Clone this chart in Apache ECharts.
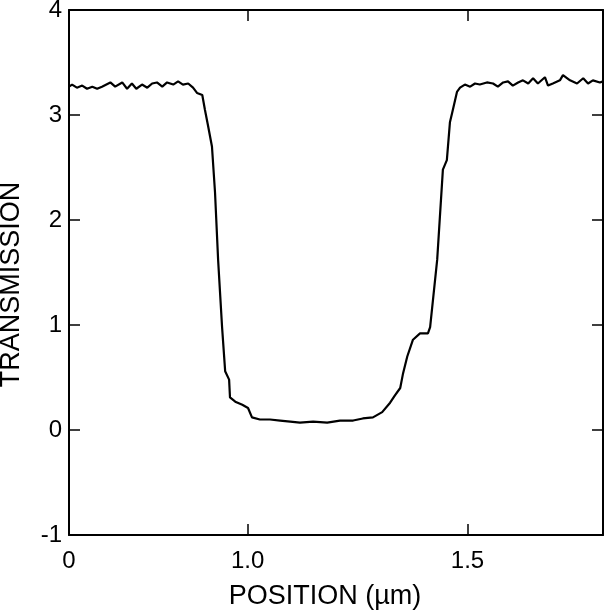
<!DOCTYPE html>
<html>
<head>
<meta charset="utf-8">
<script src="https://cdn.jsdelivr.net/npm/echarts@6/dist/echarts.min.js"></script>
<style>
  html, body { margin: 0; padding: 0; background: #fff; }
  #main { width: 606px; height: 610px; }
</style>
</head>
<body>
<div id="main"></div>
<script>
// position along the scan (um) and measured transmission
var position = [
  0.594, 0.601, 0.612, 0.624, 0.635, 0.647, 0.658, 0.669, 0.688, 0.699,
  0.715, 0.726, 0.737, 0.747, 0.760, 0.772, 0.783, 0.794, 0.806, 0.817,
  0.831, 0.842, 0.853, 0.865, 0.876, 0.885, 0.897, 0.903, 0.910, 0.919,
  0.926, 0.933, 0.942, 0.949, 0.958, 0.960, 0.972, 0.988, 1.001, 1.010,
  1.028, 1.051, 1.074, 1.097, 1.119, 1.149, 1.181, 1.210, 1.240, 1.262,
  1.285, 1.306, 1.324, 1.335, 1.347, 1.353, 1.363, 1.376, 1.392, 1.410,
  1.415, 1.431, 1.444, 1.453, 1.460, 1.465, 1.476, 1.483, 1.494, 1.506,
  1.517, 1.528, 1.544, 1.558, 1.569, 1.581, 1.592, 1.603, 1.615, 1.626,
  1.638, 1.649, 1.660, 1.676, 1.683, 1.694, 1.710, 1.717, 1.733, 1.749,
  1.763, 1.774, 1.785, 1.801, 1.808
];
var transmission = [
  3.27, 3.29, 3.26, 3.28, 3.25, 3.27, 3.25, 3.27, 3.31, 3.27,
  3.31, 3.25, 3.30, 3.25, 3.29, 3.26, 3.30, 3.31, 3.27, 3.31,
  3.29, 3.32, 3.29, 3.30, 3.26, 3.21, 3.19, 3.05, 2.90, 2.70,
  2.26, 1.62, 0.98, 0.56, 0.48, 0.31, 0.27, 0.24, 0.21, 0.12,
  0.10, 0.10, 0.09, 0.08, 0.07, 0.08, 0.07, 0.09, 0.09, 0.11,
  0.12, 0.17, 0.26, 0.33, 0.40, 0.53, 0.70, 0.86, 0.92, 0.92,
  0.98, 1.62, 2.48, 2.57, 2.93, 3.02, 3.22, 3.26, 3.29, 3.27,
  3.30, 3.29, 3.31, 3.30, 3.27, 3.31, 3.32, 3.28, 3.31, 3.33,
  3.30, 3.35, 3.30, 3.36, 3.28, 3.30, 3.33, 3.38, 3.33, 3.30,
  3.35, 3.30, 3.33, 3.31, 3.32
];
var xTicks = [1.0, 1.5];
var xLabelValues = [0.594, 1.0, 1.5];
var xLabelText = ['0', '1.0', '1.5'];

var points = position.map(function (p, i) { return [p, transmission[i]]; });

var myChart = echarts.init(document.getElementById('main'));
var font = 'Liberation Sans, Arial, Helvetica, sans-serif';
var axisLine = { show: true, onZero: false, lineStyle: { color: '#000', width: 2 } };
var tick = { inside: true, length: 11, lineStyle: { color: '#000', width: 1.5 } };

var option = {
  animation: false,
  backgroundColor: '#fff',
  grid: { left: 69, right: 3, top: 10, bottom: 75, containLabel: false, outerBoundsMode: 'none' },
  xAxis: [
    {
      type: 'value', min: 0.594, max: 1.808, position: 'bottom',
      axisLine: axisLine,
      axisTick: Object.assign({ customValues: xTicks }, tick),
      splitLine: { show: false },
      axisLabel: {
        customValues: xLabelValues,
        margin: 14, color: '#000', fontSize: 24, fontFamily: font,
        formatter: function (v) {
          var k = xLabelValues.indexOf(v);
          return k >= 0 ? xLabelText[k] : '';
        }
      },
      name: 'POSITION (µm)', nameLocation: 'middle', nameGap: 48,
      nameTextStyle: { color: '#000', fontSize: 27, fontFamily: font, padding: [0, 22, 0, 0] }
    },
    {
      type: 'value', min: 0.594, max: 1.808, position: 'top',
      axisLine: axisLine,
      axisTick: Object.assign({ customValues: xTicks }, tick),
      axisLabel: { show: false },
      splitLine: { show: false }
    }
  ],
  yAxis: [
    {
      type: 'value', min: -1, max: 4, interval: 1, position: 'left',
      axisLine: axisLine, axisTick: tick,
      splitLine: { show: false },
      axisLabel: { margin: 7, color: '#000', fontSize: 24, fontFamily: font },
      name: 'TRANSMISSION', nameLocation: 'middle', nameGap: 44,
      nameTextStyle: { color: '#000', fontSize: 27, fontFamily: font, padding: [0, 24, 0, 0] }
    },
    {
      type: 'value', min: -1, max: 4, interval: 1, position: 'right',
      axisLine: axisLine, axisTick: tick,
      axisLabel: { show: false },
      splitLine: { show: false }
    }
  ],
  series: [
    {
      type: 'line',
      data: points,
      showSymbol: false,
      lineStyle: { color: '#000', width: 2.2 },
      z: 3
    }
  ]
};

myChart.setOption(option);
</script>
</body>
</html>
